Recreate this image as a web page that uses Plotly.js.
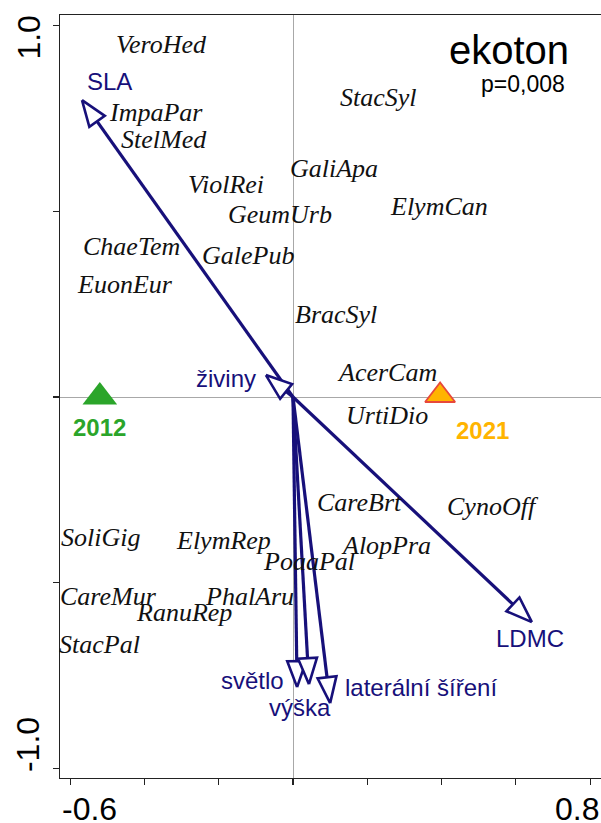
<!DOCTYPE html>
<html><head><meta charset="utf-8">
<script src="https://cdn.plot.ly/plotly-3.0.1.min.js"></script>
<style>html,body{margin:0;padding:0;background:#fff}</style>
</head><body><div id="chart" style="width:601px;height:823px"></div>
<script>
// ---- data ----
const species = ['VeroHed','ImpaPar','StelMed','StacSyl','GaliApa','ViolRei','ElymCan','GeumUrb',
  'ChaeTem','GalePub','EuonEur','BracSyl','AcerCam','UrtiDio','CareBrt','CynoOff',
  'SoliGig','ElymRep','AlopPra','PoaaPal','CareMur','PhalAru','RanuRep','StacPal'];
const speciesX = [-0.355,-0.369,-0.347,0.229,0.110,-0.180,0.393,-0.035,
  -0.436,-0.121,-0.452,0.116,0.253,0.253,0.180,0.538,
  -0.517,-0.186,0.250,0.043,-0.498,-0.118,-0.293,-0.520];
const speciesY = [0.948,0.767,0.692,0.805,0.616,0.573,0.514,0.490,
  0.404,0.382,0.304,0.221,0.067,-0.051,-0.283,-0.296,
  -0.377,-0.385,-0.401,-0.444,-0.536,-0.538,-0.579,-0.665];

const traits = ['SLA','živiny','LDMC','světlo','výška','laterální šíření'];
const traitX = [-0.568,-0.073,0.643,0.011,0.043,0.100];
const traitY = [0.799,0.059,-0.606,-0.781,-0.773,-0.824];
const traitLabelX = [-0.493,-0.180,0.638,-0.110,0.019,0.345];
const traitLabelY = [0.848,0.051,-0.649,-0.762,-0.837,-0.783];

const years = ['2012','2021'];
const yearX = [-0.520,0.396];
const yearY = [0.000,0.004];
const yearLabelX = [-0.520,0.511];
const yearLabelY = [-0.083,-0.089];

const xTickVals = [-0.6,-0.4,-0.2,0,0.2,0.4,0.6,0.8];
const yTickVals = [-1.0,-0.5,0,0.5,1.0];
const xTickLabels = ['-0.6','0.8'];
const yTickLabels = ['1.0','-1.0'];
const panelTitle = 'ekoton';
const panelP = 'p=0,008';

// ---- styling ----
const NAVY = '#17107a';
const SANS = 'Liberation Sans, Arial, sans-serif';
const traces = [];
const L = 0.070, HW = 0.0255;
function head(tx, ty){
  const len = Math.hypot(tx, ty), ux = tx/len, uy = ty/len;
  const bx = tx - ux*L, by = ty - uy*L, px = -uy, py = ux;
  return {bx, by, x:[tx, bx+px*HW, bx-px*HW, tx], y:[ty, by+py*HW, by-py*HW, ty]};
}
traits.forEach((t,i)=>{
  const h = head(traitX[i], traitY[i]);
  traces.push({x:[0,h.bx], y:[0,h.by], mode:'lines', line:{color:NAVY,width:3.2}, hoverinfo:'skip'});
  traces.push({x:h.x, y:h.y, mode:'lines', fill:'toself', fillcolor:'#ffffff',
    line:{color:NAVY,width:2.6}, hoverinfo:'skip'});
});
traces.push({x:[yearX[0]], y:[yearY[0]], mode:'markers',
  marker:{symbol:'triangle-up', size:30, color:'#2ba52a', line:{width:0}}});
traces.push({x:[yearX[1]], y:[yearY[1]], mode:'markers',
  marker:{symbol:'triangle-up', size:26, color:'#ffb400', line:{width:1.8,color:'#e8483a'}}});

const ann = [];
species.forEach((s,i)=>ann.push({x:speciesX[i], y:speciesY[i], xref:'x', yref:'y', text:'<i>'+s+'</i>',
  showarrow:false, xanchor:'center', yanchor:'middle',
  font:{family:'Liberation Serif, Times New Roman, serif', size:26, color:'#111'}}));
traits.forEach((t,i)=>ann.push({x:traitLabelX[i], y:traitLabelY[i], xref:'x', yref:'y', text:t,
  showarrow:false, xanchor:'center', yanchor:'middle',
  font:{family:SANS, size:24, color:NAVY}}));
const yearColors = ['#2ba52a','#ffb400'];
years.forEach((t,i)=>ann.push({x:yearLabelX[i], y:yearLabelY[i], xref:'x', yref:'y', text:'<b>'+t+'</b>',
  showarrow:false, xanchor:'center', yanchor:'middle',
  font:{family:SANS, size:24, color:yearColors[i]}}));
ann.push({x:0.582, y:0.934, xref:'x', yref:'y', text:panelTitle, showarrow:false,
  font:{family:SANS, size:40, color:'#000'}});
ann.push({x:0.619, y:0.843, xref:'x', yref:'y', text:panelP, showarrow:false,
  font:{family:SANS, size:23, color:'#000'}});
// end tick labels (kept inside the frame extent, as in the reference)
ann.push({x:0, y:-0.014, xref:'paper', yref:'paper', xanchor:'left', yanchor:'top', text:xTickLabels[0],
  showarrow:false, font:{family:SANS, size:32, color:'#000'}});
ann.push({x:1, y:-0.014, xref:'paper', yref:'paper', xanchor:'right', yanchor:'top', text:xTickLabels[1],
  showarrow:false, font:{family:SANS, size:32, color:'#000'}});
ann.push({x:-0.059, y:0.9705, xref:'paper', yref:'paper', xanchor:'center', yanchor:'middle',
  text:yTickLabels[0], textangle:-90,
  showarrow:false, font:{family:SANS, size:32, color:'#000'}});
ann.push({x:-0.059, y:0.0433, xref:'paper', yref:'paper', xanchor:'center', yanchor:'middle',
  text:yTickLabels[1], textangle:-90,
  showarrow:false, font:{family:SANS, size:32, color:'#000'}});

const axisCommon = {showgrid:false, zeroline:true, zerolinecolor:'#a8a8a8', zerolinewidth:1,
  showline:true, linecolor:'#222', linewidth:1.4, ticks:'outside', ticklen:6, tickwidth:1.2,
  tickcolor:'#222', showticklabels:false, fixedrange:true};
const layout = {
  width:601, height:823, margin:{l:60, r:0, t:15, b:45},
  paper_bgcolor:'#fff', plot_bgcolor:'#fff', showlegend:false,
  xaxis:Object.assign({}, axisCommon, {range:[-0.6272,0.8291], tickvals:xTickVals, mirror:true}),
  yaxis:Object.assign({}, axisCommon, {range:[-1.0256,1.0283], tickvals:yTickVals}),
  annotations:ann
};
Plotly.newPlot('chart', traces, layout, {displayModeBar:false, staticPlot:true});
</script></body></html>
